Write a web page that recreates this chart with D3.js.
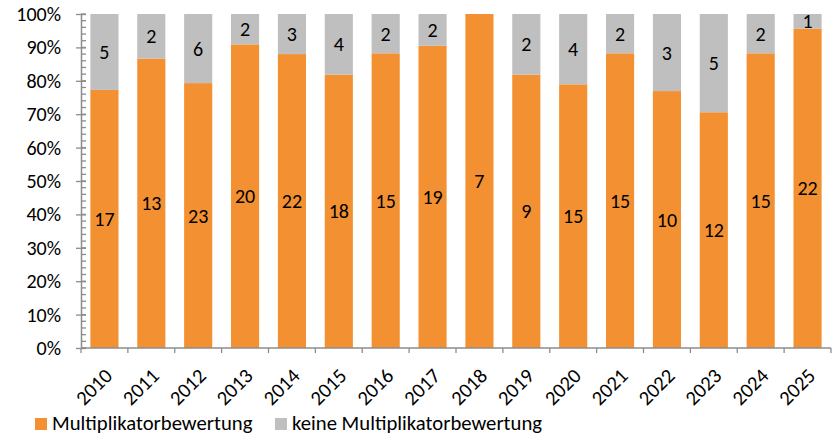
<!DOCTYPE html>
<html><head><meta charset="utf-8">
<script src="https://cdn.jsdelivr.net/npm/d3@7"></script>
<style>body{margin:0;background:#fff}text{font-family:Carlito,"Open Sans","Liberation Sans",sans-serif}</style>
</head><body>
<svg id="c" width="832" height="435"></svg>
<script>
const years = ["2010","2011","2012","2013","2014","2015","2016","2017","2018","2019","2020","2021","2022","2023","2024","2025"];
const multi = [17,13,23,20,22,18,15,19,7,9,15,15,10,12,15,22];
const keine = [5,2,6,2,3,4,2,2,0,2,4,2,3,5,2,1];
const yTicks = [0,0.1,0.2,0.3,0.4,0.5,0.6,0.7,0.8,0.9,1];
const seriesNames = ["Multiplikatorbewertung","keine Multiplikatorbewertung"];
const colors = ["#F39132","#BFBFBF"];

const svg = d3.select("#c");
const L = 81, R = 831, T = 14, B = 348;
const FS = 20;
const x = d3.scaleBand().domain(years).range([L, R]).paddingInner(0.4).paddingOuter(0.2);
const y = d3.scaleLinear().domain([0,1]).range([B, T]);

// minor ticks
const minor = d3.range(0, 1.0001, 0.02);
svg.append("g").selectAll("line").data(minor).join("line")
  .attr("x1", L).attr("x2", L+5).attr("y1", d=>y(d)).attr("y2", d=>y(d))
  .attr("stroke", "#8c8c8c").attr("stroke-width", 1.3);

// y axis
const ya = svg.append("g").attr("transform", `translate(${L},0)`)
  .call(d3.axisLeft(y).tickValues(yTicks).tickFormat(d3.format(".0%")).tickSizeInner(5).tickSizeOuter(0).tickPadding(15));
ya.select(".domain").attr("stroke", "#8c8c8c").attr("stroke-width", 1.5);
ya.selectAll(".tick line").attr("stroke", "#8c8c8c").attr("stroke-width", 1.3).attr("x2", 5).attr("x1", -5);
ya.selectAll("text").attr("font-size", FS).attr("fill", "#000");

// bars
const data = years.map((yr,i)=>{const t = multi[i]+keine[i]; return {yr, m: multi[i], k: keine[i], pm: multi[i]/t};});
const g = svg.append("g");
g.selectAll("rect.m").data(data).join("rect").attr("class","m")
  .attr("x", d=>x(d.yr)).attr("width", x.bandwidth())
  .attr("y", d=>y(d.pm)).attr("height", d=>B - y(d.pm)).attr("fill", colors[0]);
g.selectAll("rect.k").data(data.filter(d=>d.k>0)).join("rect").attr("class","k")
  .attr("x", d=>x(d.yr)).attr("width", x.bandwidth())
  .attr("y", y(1)).attr("height", d=>y(d.pm) - y(1)).attr("fill", colors[1]);

// labels
g.selectAll("text.m").data(data).join("text").attr("class","m")
  .attr("x", d=>x(d.yr)+x.bandwidth()/2).attr("y", d=>(y(d.pm)+B)/2)
  .attr("text-anchor","middle").attr("dy","0.35em").attr("font-size",FS).attr("fill","#000")
  .text(d=>d.m);
g.selectAll("text.k").data(data.filter(d=>d.k>0)).join("text").attr("class","k")
  .attr("x", d=>x(d.yr)+x.bandwidth()/2).attr("y", d=>(y(d.pm)+y(1))/2)
  .attr("text-anchor","middle").attr("dy","0.35em").attr("font-size",FS).attr("fill","#000")
  .text(d=>d.k);

// x axis
const xa = svg.append("g").attr("transform", `translate(0,${B})`);
xa.append("line").attr("x1", L).attr("x2", R).attr("stroke", "#8c8c8c").attr("stroke-width", 1.5);
const bounds = d3.range(years.length+1).map(i=>L + i*(R-L)/years.length);
xa.selectAll("line.t").data(bounds).join("line").attr("class","t")
  .attr("x1", d=>d).attr("x2", d=>d).attr("y1", 0).attr("y2", 5).attr("stroke","#8c8c8c").attr("stroke-width",1.3);
xa.selectAll("text").data(years).join("text")
  .attr("transform", d=>`translate(${x(d)+x.bandwidth()/2+4},${24}) rotate(-45)`)
  .attr("text-anchor","end").attr("dy","0.35em").attr("font-size",20.5).attr("fill","#000").text(d=>d);

// legend
const lg = svg.append("g");
const items = [{x:35, c:colors[0], t:seriesNames[0]},{x:275, c:colors[1], t:seriesNames[1]}];
items.forEach(it=>{
  lg.append("rect").attr("x", it.x).attr("y", 418).attr("width", 12).attr("height", 12).attr("fill", it.c);
  lg.append("text").attr("x", it.x+17).attr("y", 430).attr("font-size",20.7).attr("fill","#000").text(it.t);
});
</script>
</body></html>
